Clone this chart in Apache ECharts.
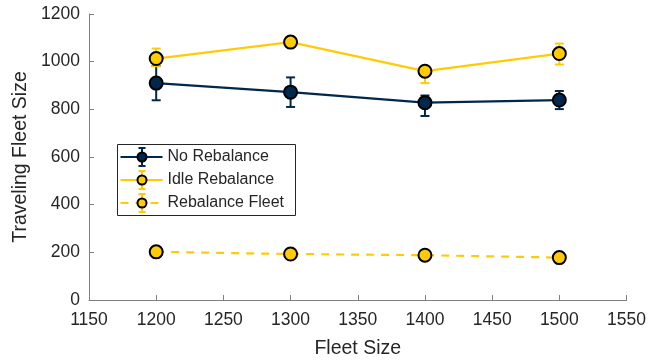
<!DOCTYPE html>
<html>
<head>
<meta charset="utf-8">
<script src="https://cdn.jsdelivr.net/npm/echarts@6/dist/echarts.min.js"></script>
<style>
  html, body { margin: 0; padding: 0; background: #fff; }
  #chart { width: 649px; height: 364px; }
</style>
</head>
<body>
<div id="chart"></div>
<script>
// Fleet sizes on the x axis
const fleetSizes = [1200, 1300, 1400, 1500];

// Traveling fleet size (mean) and error bar extents
const noRebalance = [910, 872, 828, 839];
const noRebalanceErrLow = [72, 62, 56, 38];
const noRebalanceErrHigh = [72, 62, 30, 38];

const idleRebalance = [1013, 1082, 960, 1034];
const idleRebalanceErrLow = [32, 18, 50, 46];
const idleRebalanceErrHigh = [42, 18, 20, 42];

const rebalanceFleet = [202, 193, 188, 178];

// Axis ticks
const xTicks = { min: 1150, max: 1550, step: 50 };
const yTicks = { min: 0, max: 1200, step: 200 };

const NAVY = '#00274C';
const MAIZE = '#FFCB05';
const TEXT = '#262626';
const AXIS = '#808080';
const FONT = '"Liberation Sans", Arial, Helvetica, sans-serif';

function pairs(values) {
  return fleetSizes.map((x, i) => [x, values[i]]);
}
function errRows(values, lo, hi) {
  return fleetSizes.map((x, i) => [x, values[i] - lo[i], values[i] + hi[i]]);
}

function errorBarRenderer(color) {
  return function (params, api) {
    const x = api.value(0);
    const top = api.coord([x, api.value(2)]);
    const bot = api.coord([x, api.value(1)]);
    const hw = 4.5;
    const style = { stroke: color, lineWidth: 2, fill: null };
    return {
      type: 'group',
      children: [
        { type: 'line', shape: { x1: top[0], y1: top[1], x2: bot[0], y2: bot[1] }, style },
        { type: 'line', shape: { x1: top[0] - hw, y1: top[1], x2: top[0] + hw, y2: top[1] }, style },
        { type: 'line', shape: { x1: bot[0] - hw, y1: bot[1], x2: bot[0] + hw, y2: bot[1] }, style }
      ]
    };
  };
}

function lineSeries(name, values, color, z, dashed) {
  return {
    name: name,
    type: 'line',
    data: pairs(values),
    z: z,
    symbol: 'circle',
    symbolSize: 13,
    showSymbol: true,
    lineStyle: { color: dashed ? MAIZE : color, width: 2.2, type: dashed ? [8, 7] : 'solid' },
    itemStyle: { color: color, borderColor: '#000', borderWidth: 2 },
    emphasis: { disabled: true },
    animation: false
  };
}

// Legend: a boxed key with line, marker and error-bar glyphs
function legendRow(y, label, color, dashed) {
  const children = [];
  if (dashed) {
    children.push({ type: 'line', shape: { x1: 3, y1: y, x2: 45, y2: y },
      style: { stroke: MAIZE, lineWidth: 2.2, lineDash: [8, 7] } });
  } else {
    children.push({ type: 'line', shape: { x1: 3, y1: y, x2: 45, y2: y },
      style: { stroke: color, lineWidth: 2.2 } });
  }
  const ebColor = color === NAVY ? NAVY : MAIZE;
  children.push({ type: 'line', shape: { x1: 24.5, y1: y - 9, x2: 24.5, y2: y + 9 }, style: { stroke: ebColor, lineWidth: 2 } });
  children.push({ type: 'line', shape: { x1: 21, y1: y - 9, x2: 28, y2: y - 9 }, style: { stroke: ebColor, lineWidth: 2 } });
  children.push({ type: 'line', shape: { x1: 21, y1: y + 9, x2: 28, y2: y + 9 }, style: { stroke: ebColor, lineWidth: 2 } });
  children.push({ type: 'circle', shape: { cx: 24.5, cy: y, r: 4.5 },
    style: { fill: color, stroke: '#000', lineWidth: 2 } });
  children.push({ type: 'text', x: 50, y: y,
    style: { text: label, fill: TEXT, font: '16px ' + FONT, verticalAlign: 'middle', align: 'left' } });
  return children;
}

const legendItems = [
  ['No Rebalance', NAVY, false],
  ['Idle Rebalance', MAIZE, false],
  ['Rebalance Fleet', MAIZE, true]
];
let legendChildren = [
  { type: 'rect', shape: { x: 0, y: 0, width: 178, height: 71 },
    style: { fill: '#fff', stroke: TEXT, lineWidth: 1 } }
];
legendItems.forEach((it, i) => {
  legendChildren = legendChildren.concat(legendRow(12.5 + i * 23, it[0], it[1], it[2]));
});

const plainNumber = v => String(v);

const chart = echarts.init(document.getElementById('chart'), null, { renderer: 'canvas' });

chart.setOption({
  animation: false,
  backgroundColor: '#fff',
  textStyle: { fontFamily: FONT },
  grid: { left: 89, right: 22, top: 14, bottom: 61.5, containLabel: false },
  xAxis: {
    type: 'value',
    min: xTicks.min, max: xTicks.max, interval: xTicks.step,
    name: 'Fleet Size',
    nameLocation: 'middle',
    nameGap: 39,
    nameTextStyle: { color: TEXT, fontSize: 19.5, fontFamily: FONT },
    axisLine: { show: true, onZero: false, lineStyle: { color: AXIS, width: 1 } },
    axisTick: { show: true, inside: true, length: 5, lineStyle: { color: AXIS, width: 1 } },
    axisLabel: { color: TEXT, fontSize: 17.5, fontFamily: FONT, margin: 11, formatter: plainNumber },
    splitLine: { show: false }
  },
  yAxis: {
    type: 'value',
    min: yTicks.min, max: yTicks.max, interval: yTicks.step,
    name: 'Traveling Fleet Size',
    nameLocation: 'middle',
    nameGap: 46,
    nameTextStyle: { color: TEXT, fontSize: 19.5, fontFamily: FONT },
    axisLine: { show: true, lineStyle: { color: AXIS, width: 1 } },
    axisTick: { show: true, inside: true, length: 5, lineStyle: { color: AXIS, width: 1 } },
    axisLabel: { color: TEXT, fontSize: 17.5, fontFamily: FONT, margin: 9, formatter: plainNumber },
    splitLine: { show: false }
  },
  series: [
    {
      name: 'No Rebalance error', type: 'custom', z: 2,
      renderItem: errorBarRenderer(NAVY),
      data: errRows(noRebalance, noRebalanceErrLow, noRebalanceErrHigh),
      encode: { x: 0, y: [1, 2] }, animation: false
    },
    lineSeries('No Rebalance', noRebalance, NAVY, 3, false),
    {
      name: 'Idle Rebalance error', type: 'custom', z: 4,
      renderItem: errorBarRenderer(MAIZE),
      data: errRows(idleRebalance, idleRebalanceErrLow, idleRebalanceErrHigh),
      encode: { x: 0, y: [1, 2] }, animation: false
    },
    lineSeries('Idle Rebalance', idleRebalance, MAIZE, 5, false),
    lineSeries('Rebalance Fleet', rebalanceFleet, MAIZE, 6, true)
  ],
  graphic: [
    { type: 'group', left: 117, top: 144, z: 100, children: legendChildren }
  ]
});
</script>
</body>
</html>
